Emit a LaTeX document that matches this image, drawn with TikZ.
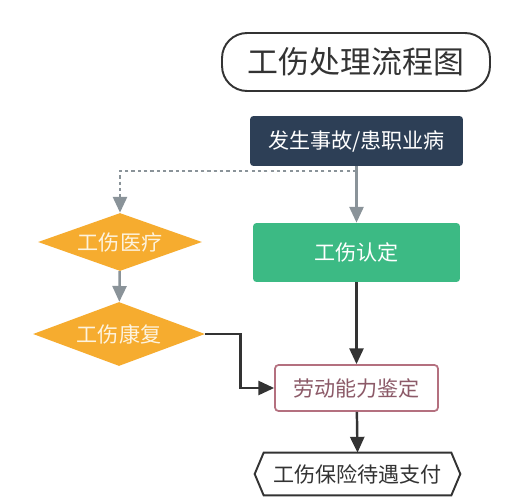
\documentclass[tikz,border=0pt]{standalone}
\usepackage{fontspec}
\setmainfont{Noto Sans CJK SC}
\usetikzlibrary{positioning,shapes.geometric,arrows.meta}
\definecolor{navy}{HTML}{2D3F56}
\definecolor{jade}{HTML}{3CBA84}
\definecolor{amber}{HTML}{F6AC2F}
\definecolor{cream}{HTML}{FDF3DE}
\definecolor{mauve}{HTML}{B4707F}
\definecolor{mauvetext}{HTML}{8C5A68}
\definecolor{greyline}{HTML}{8A9399}
\definecolor{darkline}{HTML}{333333}

\begin{document}
\begin{tikzpicture}[x=0.02cm,y=-0.02cm,
  box/.style={rectangle,rounded corners=2pt,inner sep=0pt,font=\fontsize{12}{14}\selectfont},
  dia/.style={diamond,aspect=2.8,inner sep=0pt,fill=amber,text=cream,font=\fontsize{12}{14}\selectfont},
  greyarrow/.style={draw=greyline,line width=1.4pt,-{Triangle[width=8pt,length=9pt]}},
  darkarrow/.style={draw=darkline,line width=1.4pt,-{Triangle[width=8pt,length=9pt]}}]
  \fill[white] (0,0) rectangle (523,500);
  % title
  \node[draw=darkline,line width=1.1pt,rounded corners=0.5cm,minimum width=5.36cm,minimum height=1.16cm,text=darkline,font=\fontsize{17.6}{20}\selectfont](title) at (356,62){工伤处理流程图};
  % main column
  \node[box,fill=navy,text=white,minimum width=4.26cm,minimum height=1cm](accident) at (356.5,141){发生事故/患职业病};
  \node[box,fill=jade,text=white,minimum width=4.14cm,minimum height=1.18cm](identify) at (356.5,252.5){工伤认定};
  \node[box,draw=mauve,line width=1pt,fill=white,text=mauvetext,minimum width=3.26cm,minimum height=0.92cm](assess) at (356.5,388){劳动能力鉴定};
  \node[box,minimum width=4.1cm,minimum height=0.84cm,text=darkline](pay) at (357.5,474){工伤保险待遇支付};
  \draw[darkline,line width=1.1pt] ([xshift=0.18cm]pay.north west) -- ([xshift=-0.18cm]pay.north east) -- (pay.east)
    -- ([xshift=-0.18cm]pay.south east) -- ([xshift=0.18cm]pay.south west) -- (pay.west) -- cycle;
  % side column
  \node[dia,minimum width=3.28cm,minimum height=1.16cm](treat) at (120,242){工伤医疗};
  \node[dia,minimum width=3.44cm,minimum height=1.28cm](rehab) at (119,334){工伤康复};
  \coordinate (split) at (356,171);
  % connectors
  \draw[greyarrow] (accident) -- (identify);
  \draw[greyarrow,dash pattern=on 1.8pt off 1.8pt] (split) -| (treat.north);
  \draw[greyarrow] (treat) -- (rehab);
  \draw[darkarrow] (rehab.east) -- ++(35,0) |- (assess.west);
  \draw[darkarrow] (identify) -- (assess);
  \draw[darkarrow] (assess) -- (pay.north);
\end{tikzpicture}
\end{document}
